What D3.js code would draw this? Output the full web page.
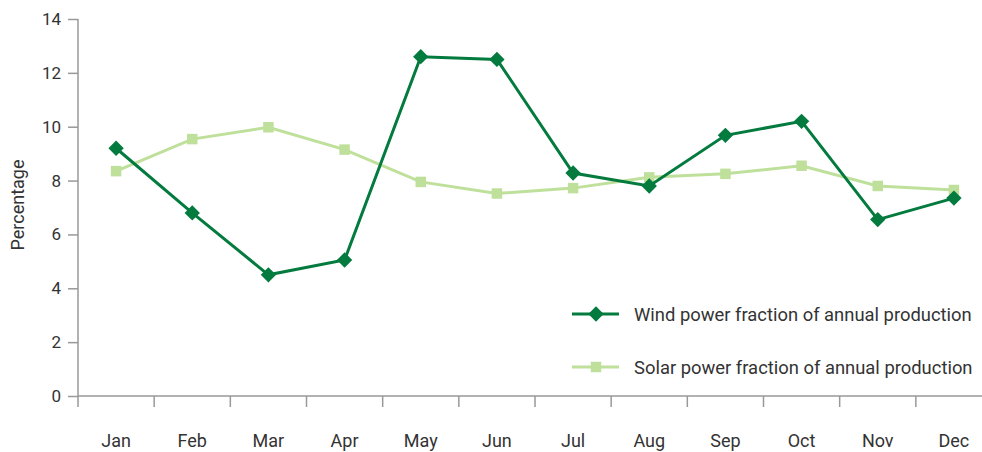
<!DOCTYPE html>
<html>
<head>
<meta charset="utf-8">
<script src="https://cdn.jsdelivr.net/npm/d3@7"></script>
<style>
  body { margin: 0; background: #fff; }
  text { font-family: Roboto, "Noto Sans", sans-serif; fill: #333; }
</style>
</head>
<body>
<svg id="chart" width="982" height="452"></svg>
<script>
// monthly share of the annual production
var months = ["Jan", "Feb", "Mar", "Apr", "May", "Jun", "Jul", "Aug", "Sep", "Oct", "Nov", "Dec"];
var wind = [9.2, 6.8, 4.5, 5.05, 12.6, 12.5, 8.28, 7.8, 9.68, 10.2, 6.55, 7.35];
var solar = [8.35, 9.54, 9.98, 9.15, 7.95, 7.52, 7.72, 8.12, 8.25, 8.55, 7.8, 7.65];
var yTicks = [0, 2, 4, 6, 8, 10, 12, 14];
var legendLabels = ["Wind power fraction of annual production",
                    "Solar power fraction of annual production"];

var WIND_COLOR = "#037a3e";
var SOLAR_COLOR = "#bfe09b";
var AXIS_COLOR = "#999";

var svg = d3.select("#chart");

var x = d3.scaleBand().domain(months).range([78, 992]);
var y = d3.scaleLinear().domain([0, 14]).range([396, 19]);

// y axis
var yAxis = svg.append("g")
    .attr("transform", "translate(78,0)")
    .call(d3.axisLeft(y).tickValues(yTicks).tickSize(10).tickPadding(7));
yAxis.select(".domain").attr("stroke", AXIS_COLOR).attr("stroke-width", 1.5)
    .attr("d", "M0," + y(14) + "V" + y(0));
yAxis.selectAll(".tick line").attr("stroke", AXIS_COLOR).attr("stroke-width", 1.5);
yAxis.selectAll(".tick text").style("font-size", "17px").attr("fill", "#333");

// x axis: ticks sit on band edges, labels at band centres
var xAxis = svg.append("g").attr("transform", "translate(0,396)");
xAxis.append("line")
    .attr("x1", 78).attr("x2", 992)
    .attr("stroke", AXIS_COLOR).attr("stroke-width", 1.5);
xAxis.selectAll(".xtick")
    .data(months)
    .enter()
    .append("line")
    .attr("x1", function(d) { return x(d); })
    .attr("x2", function(d) { return x(d); })
    .attr("y1", 0).attr("y2", 11)
    .attr("stroke", AXIS_COLOR).attr("stroke-width", 1.5);
xAxis.selectAll(".xlabel")
    .data(months)
    .enter()
    .append("text")
    .attr("x", function(d) { return x(d) + x.bandwidth() / 2; })
    .attr("y", 51)
    .attr("text-anchor", "middle")
    .style("font-size", "18px")
    .text(function(d) { return d; });

svg.append("text")
    .attr("transform", "translate(24,205) rotate(-90)")
    .attr("text-anchor", "middle")
    .style("font-size", "18px")
    .text("Percentage");

var cx = function(d, i) { return x(months[i]) + x.bandwidth() / 2; };
var line = d3.line().x(cx).y(function(d) { return y(d); });

var diamond = d3.symbol().type(d3.symbolDiamond2).size(150);
var square = d3.symbol().type(d3.symbolSquare).size(110);

// solar first so wind is drawn on top
svg.append("path").datum(solar)
    .attr("d", line).attr("fill", "none")
    .attr("stroke", SOLAR_COLOR).attr("stroke-width", 3);
svg.selectAll(".solar").data(solar).enter().append("path")
    .attr("transform", function(d, i) { return "translate(" + cx(d, i) + "," + y(d) + ")"; })
    .attr("d", square).attr("fill", SOLAR_COLOR);

svg.append("path").datum(wind)
    .attr("d", line).attr("fill", "none")
    .attr("stroke", WIND_COLOR).attr("stroke-width", 3);
svg.selectAll(".wind").data(wind).enter().append("path")
    .attr("transform", function(d, i) { return "translate(" + cx(d, i) + "," + y(d) + ")"; })
    .attr("d", diamond).attr("fill", WIND_COLOR);

// legend
var legend = svg.append("g").attr("transform", "translate(572,314)");
var legendItems = legend.selectAll("g")
    .data(legendLabels)
    .enter()
    .append("g")
    .attr("transform", function(d, i) { return "translate(0," + (i * 53) + ")"; });
legendItems.append("line")
    .attr("x1", 0).attr("x2", 47)
    .attr("stroke", function(d, i) { return i == 0 ? WIND_COLOR : SOLAR_COLOR; })
    .attr("stroke-width", 3);
legendItems.append("path")
    .attr("transform", "translate(24,0)")
    .attr("d", function(d, i) { return i == 0 ? diamond() : square(); })
    .attr("fill", function(d, i) { return i == 0 ? WIND_COLOR : SOLAR_COLOR; });
legendItems.append("text")
    .attr("x", 62).attr("y", 6.5)
    .style("font-size", "18.4px")
    .text(function(d) { return d; });
</script>
</body>
</html>
